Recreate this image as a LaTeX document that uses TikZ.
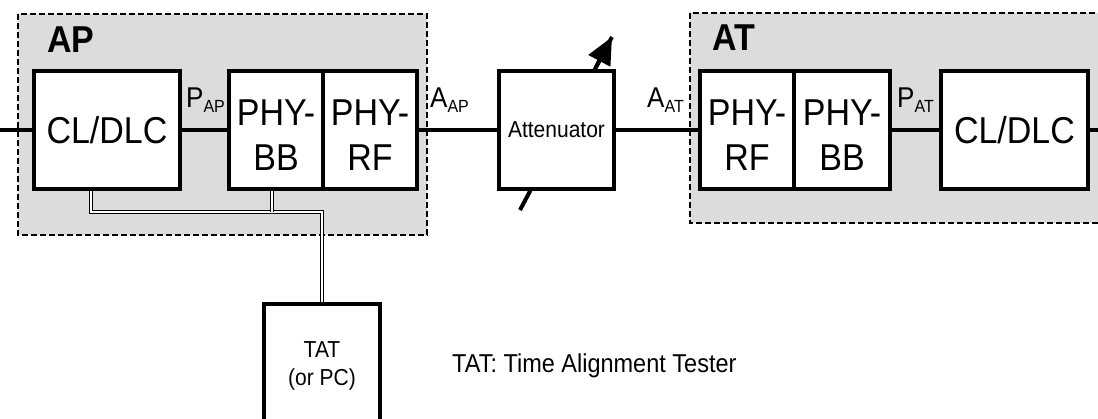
\documentclass[tikz,border=0pt]{standalone}
\usepackage{fontspec}
\usepackage{graphicx}
\setmainfont{Liberation Sans}
\usetikzlibrary{arrows.meta,calc}
\definecolor{bggray}{RGB}{220,220,220}
\newcommand{\tall}[1]{\scalebox{1}[1.1]{#1}}
\newcommand{\sublab}[2]{{\fontsize{26}{26}\selectfont\tall{#1}}\raisebox{-5pt}{\fontsize{16}{16}\selectfont\tall{#2}}}
\begin{document}
\begin{tikzpicture}[x=1pt,y=-1pt,
  blk/.style={draw, line width=4pt, fill=white, inner sep=0pt, minimum height=118pt},
  big/.style={font=\fontsize{34}{45}\selectfont},
  two/.style={big, align=center, text height=80pt, text depth=0pt},
  group/.style={draw, fill=bggray, line width=1.3pt, dash pattern=on 6pt off 3pt},
  wire/.style={line width=4pt},
  dbl/.style={double, double distance=2.4pt, line width=0.9pt},
  lab/.style={anchor=base west, inner sep=0pt}]
\clip (0,0) rectangle (1098,418);
\fill[white] (0,0) rectangle (1098,418);
% groups
\draw[group] (18,14) rectangle (427,235);
\draw[group] (690,13) rectangle (1110,223);
\node[lab, font=\fontsize{34}{34}\selectfont\bfseries] (aplab) at (47,52) {\tall{AP}};
\node[lab, font=\fontsize{34}{34}\selectfont\bfseries] (atlab) at (712,50) {\tall{AT}};
% coordinates
\coordinate (lin) at (0,130);
\coordinate (rout) at (1100,130);
\coordinate (j1) at (322,212);
\coordinate (arrS) at (520,210);
\coordinate (arrE) at (612,37);
\path (107,130) coordinate (pcl) (276,130) coordinate (pbb) (370,130) coordinate (prf)
      (556.5,130) coordinate (patt) (747,130) coordinate (prf2) (842,130) coordinate (pbb2)
      (1014.5,130) coordinate (pcl2) (322,365) coordinate (ptat);
% double lines (drawn under boxes)
\draw[dbl] ([xshift=-16pt]pcl) |- (j1) -- (ptat);
\draw[dbl] ([xshift=-4pt]pbb) -- ([xshift=-4pt]pbb |- j1);
% attenuator arrow shaft (under the box)
\draw[wire] (arrS) -- (arrE);
% boxes
\node[blk, minimum width=146pt, big] (apcl) at (pcl) {\tall{CL/DLC}};
\node[blk, minimum width=94pt, two] (apbb) at (pbb) {\tall{PHY-}\\\tall{BB}};
\node[blk, minimum width=94pt, two] (aprf) at (prf) {\tall{PHY-}\\\tall{RF}};
\node[blk, minimum width=115pt, font=\fontsize{21}{21}\selectfont] (att) at (patt) {\tall{Attenuator}};
\node[blk, minimum width=94pt, two] (atrf) at (prf2) {\tall{PHY-}\\\tall{RF}};
\node[blk, minimum width=96pt, two] (atbb) at (pbb2) {\tall{PHY-}\\\tall{BB}};
\node[blk, minimum width=147pt, big] (atcl) at (pcl2) {\tall{CL/DLC}};
\node[blk, minimum width=116pt, minimum height=122pt] (tat) at (ptat) {};
\node[font=\fontsize{21}{28}\selectfont, align=center, inner sep=0pt] (tattxt) at (322,366) {\tall{TAT}\\\tall{(or PC)}};
% attenuator arrow head (above the box)
\draw[wire, -{Triangle[length=27pt,width=24pt]}] ($(arrE)!0.17!(arrS)$) -- (arrE);
% wires
\draw[wire] (lin) -- (apcl.west);
\draw[wire] (apcl.east) -- (apbb.west);
\draw[wire] (aprf.east) -- (att.west);
\draw[wire] (att.east) -- (atrf.west);
\draw[wire] (atbb.east) -- (atcl.west);
\draw[wire] (atcl.east) -- (rout);
% labels
\node[lab] (pap) at (186,107) {\sublab{P}{AP}};
\node[lab] (aap) at (430,107) {\sublab{A}{AP}};
\node[lab] (aat) at (647,107) {\sublab{A}{AT}};
\node[lab] (pat) at (897,107) {\sublab{P}{AT}};
\node[lab, font=\fontsize{23.5}{23.5}\selectfont] (legend) at (452,372) {\tall{TAT: Time Alignment Tester}};
\end{tikzpicture}
\end{document}
